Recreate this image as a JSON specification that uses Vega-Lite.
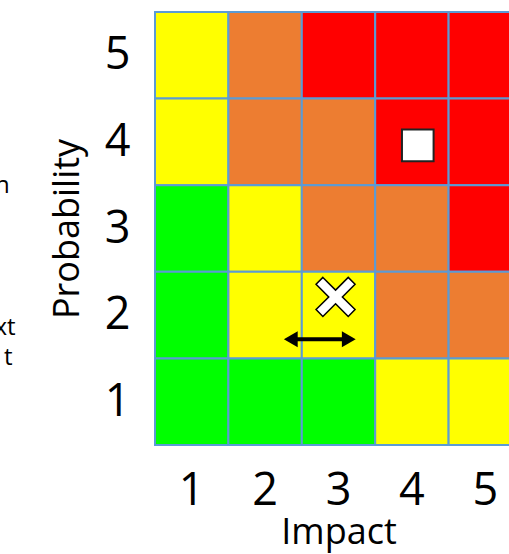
{
  "$schema": "https://vega.github.io/schema/vega-lite/v6.json",
  "autosize": "none",
  "width": 367,
  "height": 433,
  "padding": {"left": 155, "top": 12, "right": 0, "bottom": 109},
  "background": "white",
  "config": {"view": {"stroke": null}, "font": "Open Sans"},
  "layer": [
    {
      "data": {"values": [
        {"impact": 1, "probability": 5, "level": "medium"},
        {"impact": 2, "probability": 5, "level": "high"},
        {"impact": 3, "probability": 5, "level": "extreme"},
        {"impact": 4, "probability": 5, "level": "extreme"},
        {"impact": 5, "probability": 5, "level": "extreme"},
        {"impact": 1, "probability": 4, "level": "medium"},
        {"impact": 2, "probability": 4, "level": "high"},
        {"impact": 3, "probability": 4, "level": "high"},
        {"impact": 4, "probability": 4, "level": "extreme"},
        {"impact": 5, "probability": 4, "level": "extreme"},
        {"impact": 1, "probability": 3, "level": "low"},
        {"impact": 2, "probability": 3, "level": "medium"},
        {"impact": 3, "probability": 3, "level": "high"},
        {"impact": 4, "probability": 3, "level": "high"},
        {"impact": 5, "probability": 3, "level": "extreme"},
        {"impact": 1, "probability": 2, "level": "low"},
        {"impact": 2, "probability": 2, "level": "medium"},
        {"impact": 3, "probability": 2, "level": "medium"},
        {"impact": 4, "probability": 2, "level": "high"},
        {"impact": 5, "probability": 2, "level": "high"},
        {"impact": 1, "probability": 1, "level": "low"},
        {"impact": 2, "probability": 1, "level": "low"},
        {"impact": 3, "probability": 1, "level": "low"},
        {"impact": 4, "probability": 1, "level": "medium"},
        {"impact": 5, "probability": 1, "level": "medium"}
      ]},
      "mark": {"type": "rect", "stroke": "#5B9BD5", "strokeWidth": 2},
      "encoding": {
        "x": {
          "field": "impact", "type": "ordinal",
          "scale": {"paddingInner": 0, "paddingOuter": 0},
          "axis": {
            "title": "Impact", "labelAngle": 0, "ticks": false, "tickSize": 0, "domain": false,
            "labelFontSize": 45, "labelColor": "black", "labelPadding": 23,
            "titleFontSize": 36, "titleFontWeight": "normal", "titleColor": "black", "titlePadding": 2
          }
        },
        "y": {
          "field": "probability", "type": "ordinal", "sort": "descending",
          "scale": {"paddingInner": 0, "paddingOuter": 0},
          "axis": {
            "title": "Probability", "ticks": false, "tickSize": 0, "domain": false,
            "labelFontSize": 45, "labelColor": "black", "labelPadding": 25,
            "titleFontSize": 36, "titleFontWeight": "normal", "titleColor": "black", "titlePadding": 18
          }
        },
        "color": {
          "field": "level", "type": "nominal", "legend": null,
          "scale": {"domain": ["low", "medium", "high", "extreme"], "range": ["#00FF00", "#FFFF00", "#ED7D31", "#FF0000"]}
        }
      }
    },
    {
      "data": {"values": [
        {"marker": "square", "impact": 4.08, "probability": 3.96},
        {"marker": "cross", "impact": 2.96, "probability": 2.21}
      ]},
      "layer": [
        {
          "transform": [{"filter": "datum.marker === 'square'"}],
          "mark": {"type": "point", "shape": "square", "filled": true, "fill": "white", "stroke": "#222222", "strokeWidth": 2, "size": 1000, "opacity": 1},
          "encoding": {
            "x": {"field": "impact", "type": "quantitative", "scale": {"domain": [0.5, 5.5], "nice": false, "zero": false}, "axis": null},
            "y": {"field": "probability", "type": "quantitative", "scale": {"domain": [0.5, 5.5], "nice": false, "zero": false}, "axis": null}
          }
        },
        {
          "transform": [{"filter": "datum.marker === 'cross'"}],
          "mark": {"type": "point", "shape": "M-0.65,-1L0,-0.35L0.65,-1L1,-0.65L0.35,0L1,0.65L0.65,1L0,0.35L-0.65,1L-1,0.65L-0.35,0L-1,-0.65Z", "filled": true, "fill": "white", "stroke": "black", "strokeWidth": 1.5, "size": 1521, "opacity": 1},
          "encoding": {
            "x": {"field": "impact", "type": "quantitative", "scale": {"domain": [0.5, 5.5], "nice": false, "zero": false}, "axis": null},
            "y": {"field": "probability", "type": "quantitative", "scale": {"domain": [0.5, 5.5], "nice": false, "zero": false}, "axis": null}
          }
        }
      ]
    },
    {
      "data": {"values": [
        {"start": 2.35, "end": 3.14, "probability": 1.72}
      ]},
      "layer": [
        {
          "mark": {"type": "rule", "color": "black", "strokeWidth": 4},
          "encoding": {
            "x": {"field": "start", "type": "quantitative", "scale": {"domain": [0.5, 5.5], "nice": false, "zero": false}, "axis": null},
            "x2": {"field": "end"},
            "y": {"field": "probability", "type": "quantitative", "scale": {"domain": [0.5, 5.5], "nice": false, "zero": false}, "axis": null}
          }
        },
        {
          "mark": {"type": "point", "shape": "triangle-left", "filled": true, "color": "black", "size": 256, "opacity": 1},
          "encoding": {
            "x": {"field": "start", "type": "quantitative", "scale": {"domain": [0.5, 5.5], "nice": false, "zero": false}, "axis": null},
            "y": {"field": "probability", "type": "quantitative", "scale": {"domain": [0.5, 5.5], "nice": false, "zero": false}, "axis": null}
          }
        },
        {
          "mark": {"type": "point", "shape": "triangle-right", "filled": true, "color": "black", "size": 256, "opacity": 1},
          "encoding": {
            "x": {"field": "end", "type": "quantitative", "scale": {"domain": [0.5, 5.5], "nice": false, "zero": false}, "axis": null},
            "y": {"field": "probability", "type": "quantitative", "scale": {"domain": [0.5, 5.5], "nice": false, "zero": false}, "axis": null}
          }
        }
      ]
    },
    {
      "data": {"values": [
        {"fragment": "n", "impact": -1.48, "probability": 3.41},
        {"fragment": "xt", "impact": -1.4, "probability": 1.77},
        {"fragment": "t", "impact": -1.44, "probability": 1.42}
      ]},
      "mark": {"type": "text", "align": "right", "baseline": "alphabetic", "fontSize": 24, "color": "black", "clip": false},
      "encoding": {
        "x": {"field": "impact", "type": "quantitative", "scale": {"domain": [0.5, 5.5], "nice": false, "zero": false}, "axis": null},
        "y": {"field": "probability", "type": "quantitative", "scale": {"domain": [0.5, 5.5], "nice": false, "zero": false}, "axis": null},
        "text": {"field": "fragment"}
      }
    }
  ],
  "resolve": {"scale": {"x": "independent", "y": "independent"}}
}
